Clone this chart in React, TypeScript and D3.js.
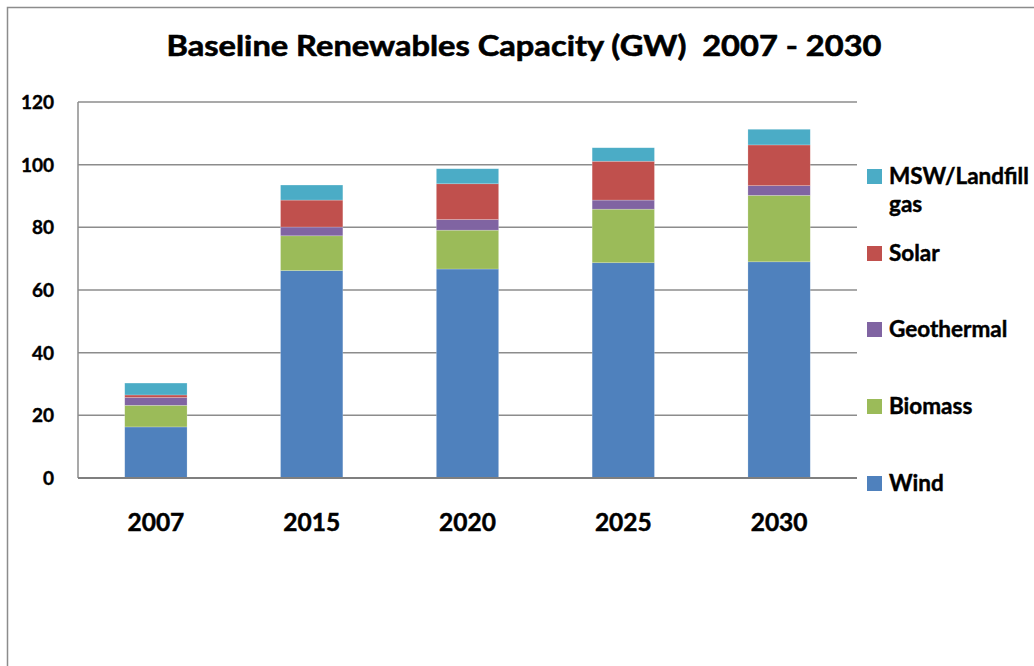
import React from 'react';
import * as d3 from 'd3';

const years = ['2007', '2015', '2020', '2025', '2030'];
const seriesNames = ['Wind', 'Biomass', 'Geothermal', 'Solar', 'MSW/Landfill gas'];
const wind = [16.3, 66.2, 66.7, 68.7, 69.0];
const biomass = [6.9, 11.1, 12.4, 17.1, 21.2];
const geothermal = [2.5, 2.8, 3.4, 2.9, 3.1];
const solar = [0.8, 8.6, 11.4, 12.4, 13.0];
const mswLandfill = [3.8, 4.8, 4.8, 4.3, 5.0];
const yTicks = [0, 20, 40, 60, 80, 100, 120];
const colors = ['#4F81BD', '#9BBB59', '#8064A2', '#C0504D', '#4BACC6'];

const W = 1034;
const H = 666;
const FONT = 'Lato, "Open Sans", sans-serif';

export default function App() {
  const ref = React.useRef<SVGSVGElement>(null);

  React.useEffect(() => {
    if (!ref.current) return;
    const svg = d3.select(ref.current);
    svg.selectAll('*').remove();

    const plot = { left: 78, right: 857, top: 102, bottom: 478 };

    const rows = years.map((year, i) => ({
      year,
      Wind: wind[i],
      Biomass: biomass[i],
      Geothermal: geothermal[i],
      Solar: solar[i],
      'MSW/Landfill gas': mswLandfill[i],
    }));

    const x = d3.scaleBand<string>()
      .domain(years)
      .range([plot.left, plot.right])
      .paddingInner(0.6)
      .paddingOuter(0.3);

    const y = d3.scaleLinear().domain([0, 120]).range([plot.bottom, plot.top]);

    const stacked = d3.stack<any>().keys(seriesNames)(rows);

    // outer frame
    svg.append('path')
      .attr('d', `M7.5,${H + 2} V7.5 H${W + 2}`)
      .attr('fill', 'none')
      .attr('stroke', '#8c8c8c')
      .attr('stroke-width', 1.5);

    // title
    svg.append('text')
      .attr('x', 524)
      .attr('y', 56)
      .attr('text-anchor', 'middle')
      .attr('font-family', FONT)
      .attr('font-weight', 700)
      .attr('font-size', 29)
      .attr('stroke', '#000')
      .attr('stroke-width', 0.6)
      .attr('textLength', 715)
      .attr('lengthAdjust', 'spacingAndGlyphs')
      .attr('xml:space', 'preserve')
      .style('white-space', 'pre')
      .text('Baseline Renewables Capacity (GW)  2007 - 2030');

    // gridlines
    svg.append('g')
      .selectAll('line')
      .data(yTicks.filter(t => t > 0))
      .join('line')
      .attr('x1', plot.left)
      .attr('x2', plot.right)
      .attr('y1', d => y(d))
      .attr('y2', d => y(d))
      .attr('stroke', '#8c8c8c')
      .attr('stroke-width', 1.5);

    // bars
    svg.append('g')
      .selectAll('g')
      .data(stacked)
      .join('g')
      .attr('fill', (_, i) => colors[i])
      .selectAll('rect')
      .data(d => d)
      .join('rect')
      .attr('x', d => x(d.data.year) as number)
      .attr('width', x.bandwidth())
      .attr('y', d => y(d[1]))
      .attr('height', d => y(d[0]) - y(d[1]))
      .attr('stroke', '#ffffff')
      .attr('stroke-opacity', 0.35)
      .attr('stroke-width', 0.6);

    // axes lines
    svg.append('line')
      .attr('x1', plot.left).attr('x2', plot.left)
      .attr('y1', plot.top).attr('y2', plot.bottom)
      .attr('stroke', '#8c8c8c').attr('stroke-width', 1.5);
    svg.append('line')
      .attr('x1', plot.left).attr('x2', plot.right)
      .attr('y1', plot.bottom).attr('y2', plot.bottom)
      .attr('stroke', '#7f7f7f').attr('stroke-width', 2);

    // y tick labels
    svg.append('g')
      .selectAll('text')
      .data(yTicks)
      .join('text')
      .attr('x', 54)
      .attr('y', d => y(d))
      .attr('dy', '0.36em')
      .attr('text-anchor', 'end')
      .attr('font-family', FONT)
      .attr('font-weight', 700)
      .attr('font-size', 19)
      .attr('fill', '#000')
      .attr('stroke', '#000')
      .attr('stroke-width', 0.4)
      .text(d => d);

    // x labels
    svg.append('g')
      .selectAll('text')
      .data(years)
      .join('text')
      .attr('x', d => (x(d) as number) + x.bandwidth() / 2)
      .attr('y', 531)
      .attr('text-anchor', 'middle')
      .attr('font-family', FONT)
      .attr('font-weight', 700)
      .attr('font-size', 24.5)
      .attr('fill', '#000')
      .attr('stroke', '#000')
      .attr('stroke-width', 0.5)
      .text(d => d);

    // legend (top to bottom: reversed series order)
    const legendItems = [
      { lines: ['MSW/Landfill', 'gas'], color: colors[4], base: 184 },
      { lines: ['Solar'], color: colors[3], base: 261 },
      { lines: ['Geothermal'], color: colors[2], base: 337 },
      { lines: ['Biomass'], color: colors[1], base: 414 },
      { lines: ['Wind'], color: colors[0], base: 491 },
    ];
    const lg = svg.append('g').selectAll('g').data(legendItems).join('g');
    lg.append('rect')
      .attr('x', 867)
      .attr('y', d => d.base - 15)
      .attr('width', 15)
      .attr('height', 15)
      .attr('fill', d => d.color);
    lg.append('text')
      .attr('font-family', FONT)
      .attr('font-weight', 700)
      .attr('font-size', 22.5)
      .attr('fill', '#000')
      .attr('stroke', '#000')
      .attr('stroke-width', 0.45)
      .selectAll('tspan')
      .data(d => d.lines.map((t, i) => ({ t, i, base: d.base })))
      .join('tspan')
      .attr('x', 889)
      .attr('y', d => d.base + d.i * 28)
      .text(d => d.t);
  }, []);

  return (
    <svg
      ref={ref}
      width={W}
      height={H}
      style={{ position: 'absolute', left: 0, top: 0, background: '#fff' }}
    />
  );
}
